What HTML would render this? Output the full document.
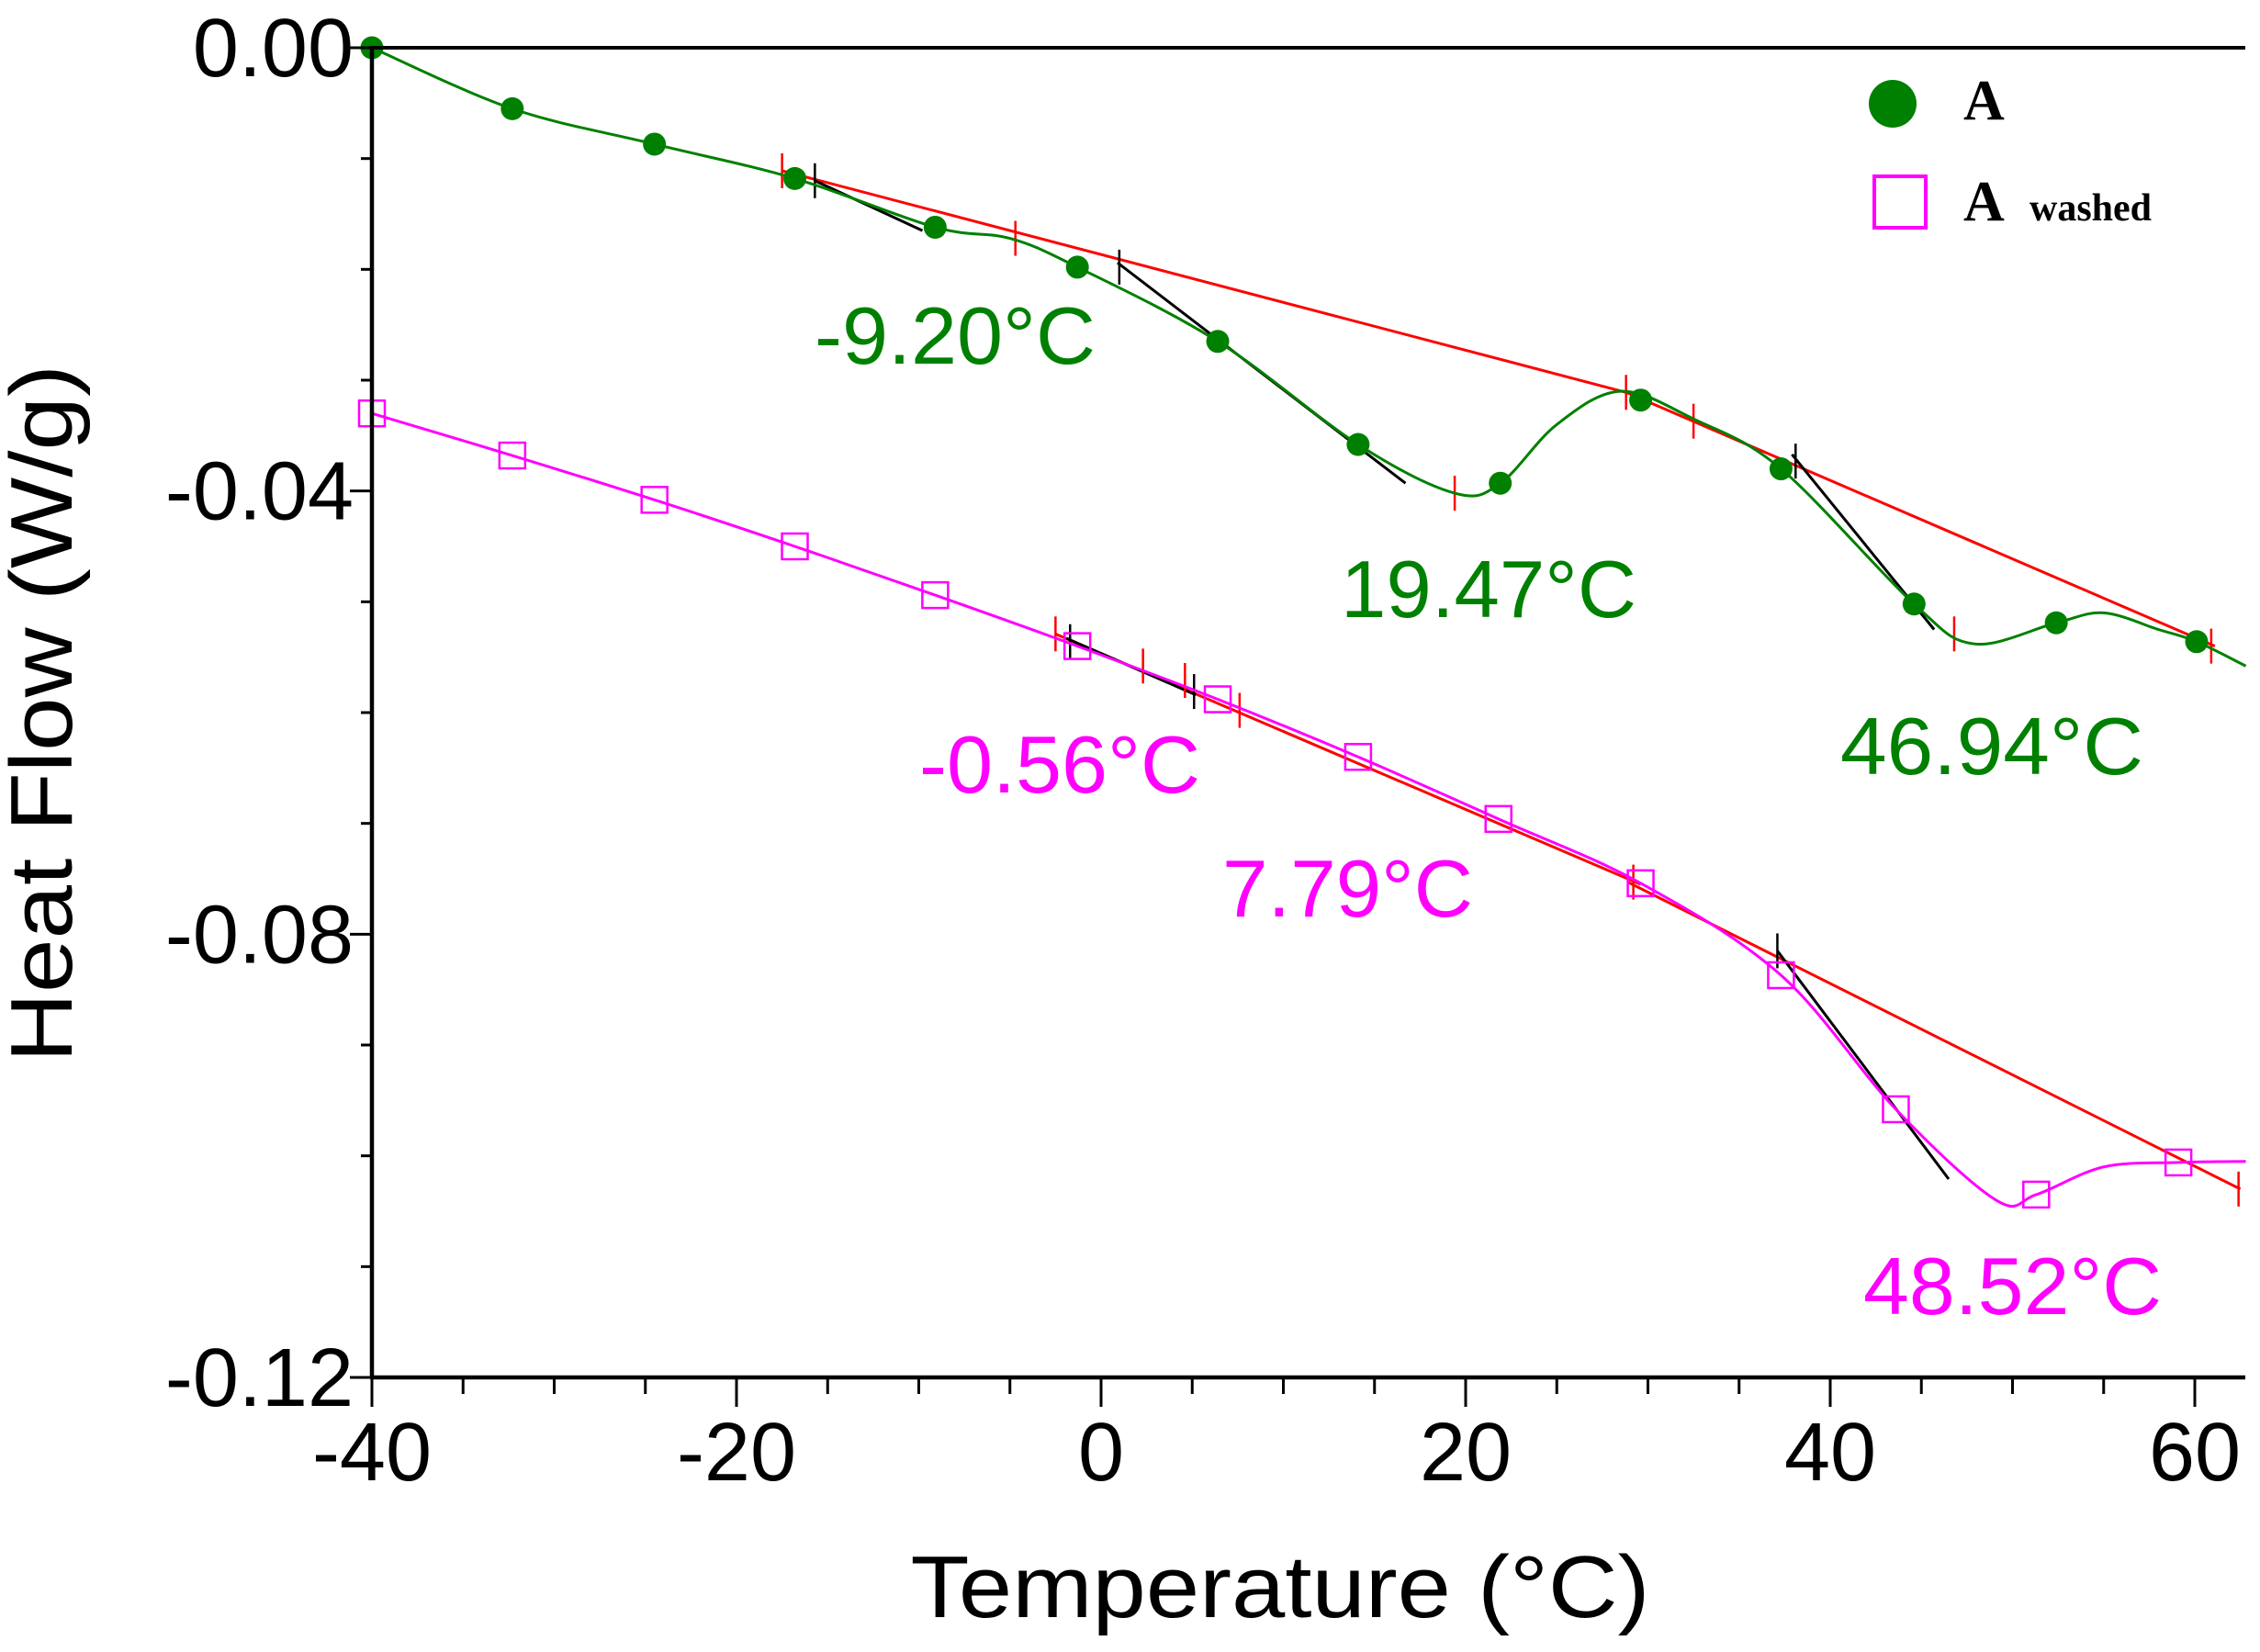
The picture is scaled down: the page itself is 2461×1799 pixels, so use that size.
<!DOCTYPE html>
<html><head><meta charset="utf-8"><style>
html,body{margin:0;padding:0;background:#fff}
svg{display:block}
text{font-family:"Liberation Sans",sans-serif}
</style></head><body>
<svg id="chart" width="2461" height="1799" viewBox="0 0 2461 1799" xmlns="http://www.w3.org/2000/svg">
<g id="g-ann"></g>
<g id="g-series"></g>
<g id="g-axes"></g>
<text transform="translate(78,777) rotate(-90)" text-anchor="middle" font-size="96" textLength="760" lengthAdjust="spacingAndGlyphs">Heat Flow (W/g)</text>
<text x="1394" y="1761" text-anchor="middle" font-size="96" textLength="805" lengthAdjust="spacingAndGlyphs">Temperature (°C)</text>
<g font-size="88">
<text x="887" y="396" fill="#008000" textLength="306" lengthAdjust="spacingAndGlyphs">-9.20°C</text>
<text x="1460" y="672" fill="#008000" textLength="322" lengthAdjust="spacingAndGlyphs">19.47°C</text>
<text x="2004" y="843" fill="#008000" textLength="330" lengthAdjust="spacingAndGlyphs">46.94°C</text>
<text x="1001" y="863" fill="#ff00ff" textLength="306" lengthAdjust="spacingAndGlyphs">-0.56°C</text>
<text x="1331" y="998" fill="#ff00ff" textLength="273" lengthAdjust="spacingAndGlyphs">7.79°C</text>
<text x="2029" y="1431" fill="#ff00ff" textLength="325" lengthAdjust="spacingAndGlyphs">48.52°C</text>
</g>
<g>
<g>
<circle cx="2061" cy="113" r="26" fill="#008000"/>
<text x="2138" y="130" style="font-family:'Liberation Serif',serif;font-weight:bold;font-size:62px">A</text>
</g>
<g>
<rect x="2041" y="192" width="56" height="56" fill="none" stroke="#ff00ff" stroke-width="4"/>
<text x="2138" y="240" style="font-family:'Liberation Serif',serif;font-weight:bold;font-size:62px">A</text>
<text x="2210" y="240" style="font-family:'Liberation Serif',serif;font-weight:bold;font-size:42px">washed</text>
</g>
</g>
</svg>
<script>
// data
const xTicks = [-40,-20,0,20,40,60];
const yTicks = [0,-0.04,-0.08,-0.12];
const yTickLabels = ["0.00","-0.04","-0.08","-0.12"];
const aMarkerT = [-40,-32.3,-24.5,-16.8,-9.1,-1.3,6.4,14.1,21.9,29.6,37.3,44.6,52.4,60.1];
const aMarkerHF = [0,-0.0055,-0.0087,-0.0118,-0.0162,-0.0198,-0.0265,-0.0358,-0.0393,-0.0318,-0.0380,-0.0502,-0.0519,-0.0536];
const aCurveT = [-40,-32.3,-24.5,-16.8,-9.1,-5,-1.3,6.4,14.1,19.4,21.9,25,28.5,32.5,37.3,44.6,47.9,52.4,55,58,60.1,62.8];
const aCurveHF = [0,-0.0055,-0.0087,-0.0118,-0.0162,-0.0172,-0.0198,-0.0265,-0.0358,-0.0402,-0.0393,-0.0340,-0.0310,-0.0335,-0.0380,-0.0502,-0.0538,-0.0519,-0.0510,-0.0525,-0.0536,-0.0558];
const wMarkerT = [-40,-32.3,-24.5,-16.8,-9.1,-1.3,6.4,14.1,21.8,29.6,37.3,43.6,51.3,59.1];
const wMarkerHF = [-0.0330,-0.0368,-0.0408,-0.0450,-0.0494,-0.0540,-0.0588,-0.0640,-0.0696,-0.0754,-0.0837,-0.0958,-0.1035,-0.1006];
const wCurveT = [-40,-32.3,-24.5,-16.8,-9.1,-1.3,6.4,14.1,21.8,29.6,37.3,43.6,49.1,51.3,55,59.1,62.8];
const wCurveHF = [-0.0330,-0.0368,-0.0408,-0.0450,-0.0494,-0.0540,-0.0588,-0.0640,-0.0696,-0.0754,-0.0837,-0.0958,-0.1040,-0.1035,-0.1010,-0.1006,-0.1005];
// annotation segments [T1,HF1,T2,HF2]
const redLines = [[-17.5,-0.0111,28.8,-0.0311],[28.8,-0.0311,61.1,-0.0540],[-2.5,-0.0529,29.6,-0.0755],[28.9,-0.0753,62.5,-0.1030]];
const blackLines = [[-15.7,-0.0120,-9.8,-0.0165],[0.9,-0.0194,16.7,-0.0393],[37.9,-0.0367,45.7,-0.0525],[-1.9,-0.0533,5.2,-0.0584],[37.1,-0.0815,46.5,-0.1021]];
const redTickT = [-17.5,-4.7,19.4,28.8,32.5,46.8,60.9,-2.5,2.3,4.6,7.6,29.2,62.4];
const redTickHF = [-0.0111,-0.0172,-0.0402,-0.0311,-0.0337,-0.0529,-0.0540,-0.0529,-0.0558,-0.0571,-0.0598,-0.0753,-0.1030];
const blackTickT = [-15.7,1.0,38.1,-1.7,5.1,37.1];
const blackTickHF = [-0.0120,-0.0198,-0.0373,-0.0536,-0.0581,-0.0815];

const X0=405, X1=2390, XMIN=-40, XMAX=60, Y0=52, Y1=1500, YMIN=0, YMAX=-0.12;
const PLOT_R=2445;
function sx(t){return X0+(t-XMIN)/(XMAX-XMIN)*(X1-X0);}
function sy(v){return Y0+(v-YMIN)/(YMAX-YMIN)*(Y1-Y0);}
const NS="http://www.w3.org/2000/svg";
function mk(tag,attrs,parent){const e=document.createElementNS(NS,tag);for(const k in attrs)e.setAttribute(k,attrs[k]);parent.appendChild(e);return e;}
const gA=document.getElementById('g-ann'), gS=document.getElementById('g-series'), gX=document.getElementById('g-axes');

function spline(T,H){
  const p=T.map((t,i)=>[sx(t),sy(H[i])]);
  let d=`M${p[0][0]},${p[0][1]}`;
  for(let i=0;i<p.length-1;i++){
    const a=p[Math.max(0,i-1)],b=p[i],c=p[i+1],e=p[Math.min(p.length-1,i+2)];
    const c1=[b[0]+(c[0]-a[0])/6,b[1]+(c[1]-a[1])/6];
    const c2=[c[0]-(e[0]-b[0])/6,c[1]-(e[1]-b[1])/6];
    d+=` C${c1[0]},${c1[1]} ${c2[0]},${c2[1]} ${c[0]},${c[1]}`;
  }
  return d;
}
let el;
el=mk('path',{d:spline(aCurveT,aCurveHF),fill:'none',stroke:'#008000','stroke-width':3},gS);


el=mk('path',{d:spline(wCurveT,wCurveHF),fill:'none',stroke:'#ff00ff','stroke-width':3},gS);


redLines.forEach(s=>{
  el=mk('line',{x1:sx(s[0]),y1:sy(s[1]),x2:sx(s[2]),y2:sy(s[3]),stroke:'#ff0000','stroke-width':3},gA);
  
  
});
blackLines.forEach(s=>{
  el=mk('line',{x1:sx(s[0]),y1:sy(s[1]),x2:sx(s[2]),y2:sy(s[3]),stroke:'#000','stroke-width':3},gA);
  
  
});
redTickT.forEach((t,i)=>{
  el=mk('line',{x1:sx(t),y1:sy(redTickHF[i])-19,x2:sx(t),y2:sy(redTickHF[i])+19,stroke:'#ff0000','stroke-width':2.5},gA);
  
  
});
blackTickT.forEach((t,i)=>{
  el=mk('line',{x1:sx(t),y1:sy(blackTickHF[i])-19,x2:sx(t),y2:sy(blackTickHF[i])+19,stroke:'#000','stroke-width':2.5},gA);
  
  
});
aMarkerT.forEach((t,i)=>{
  el=mk('circle',{cx:sx(t),cy:sy(aMarkerHF[i]),r:12.5,fill:'#008000'},gS);
  
  
});
wMarkerT.forEach((t,i)=>{
  el=mk('rect',{x:sx(t)-14,y:sy(wMarkerHF[i])-14,width:28,height:28,fill:'none',stroke:'#ff00ff','stroke-width':2.5},gS);
  
  
});
// axes
el=mk('line',{x1:X0,y1:Y0,x2:X0,y2:Y1,stroke:'#000','stroke-width':4.5},gX);


el=mk('line',{x1:X0-2,y1:Y1,x2:PLOT_R,y2:Y1,stroke:'#000','stroke-width':4.5},gX);


el=mk('line',{x1:X0-2,y1:Y0,x2:PLOT_R,y2:Y0,stroke:'#000','stroke-width':4},gX);


for(let t=-40;t<=60;t+=5){
  const major=(t%20===0);
  el=mk('line',{x1:sx(t),y1:Y1,x2:sx(t),y2:Y1+(major?32:18),stroke:'#000','stroke-width':3},gX);
  
  
}
xTicks.forEach(t=>{
  el=mk('text',{x:sx(t),y:1612,'text-anchor':'middle','font-size':90},gX);
  el.textContent=String(t);
  
  
});
for(let k=0;k<=12;k++){
  const v=-k*0.01, major=(k%4===0);
  el=mk('line',{x1:X0-(major?24:12),y1:sy(v),x2:X0,y2:sy(v),stroke:'#000','stroke-width':3},gX);
  
  
}
yTicks.forEach((v,i)=>{
  el=mk('text',{x:385,y:sy(v)+31,'text-anchor':'end','font-size':90},gX);
  el.textContent=yTickLabels[i];
  
  
});
</script>
</body></html>
